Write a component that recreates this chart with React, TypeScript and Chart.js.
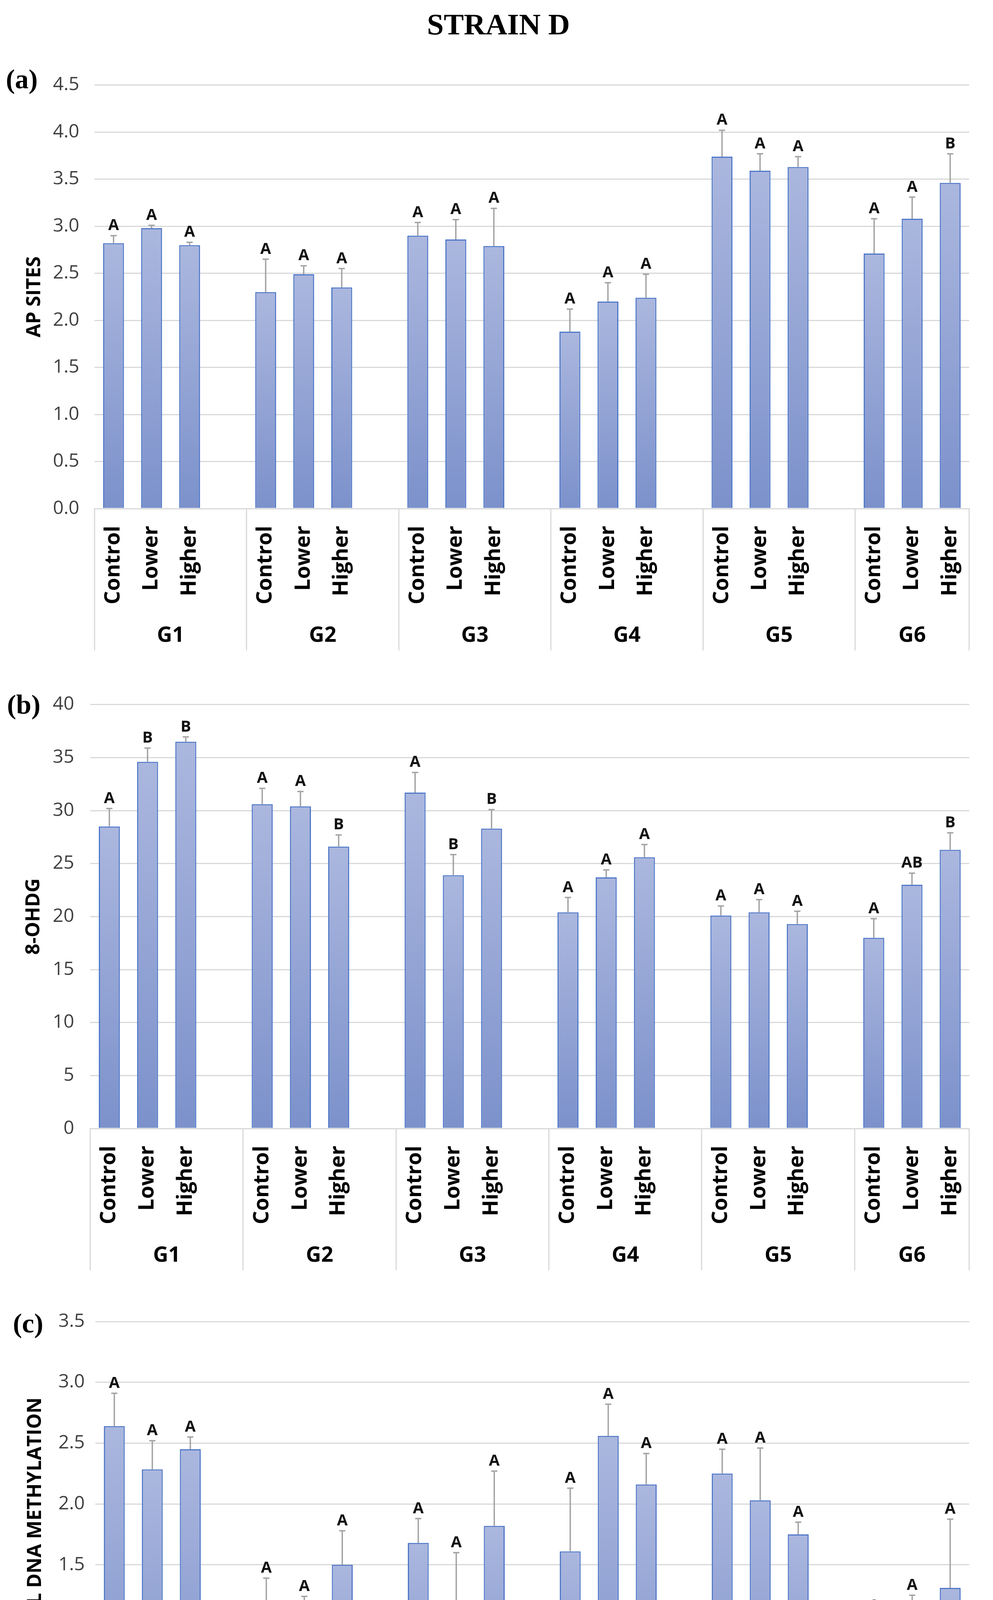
import React, { useEffect, useRef } from 'react';
import { Chart, registerables } from 'chart.js';

Chart.register(...registerables);

// ---------- data ----------
const groups = ['G1', 'G2', 'G3', 'G4', 'G5', 'G6'];
const treatments = ['Control', 'Lower', 'Higher'];

// (a) AP sites
const apSites = [2.82, 2.98, 2.8, 2.3, 2.49, 2.35, 2.9, 2.86, 2.79, 1.88, 2.2, 2.24, 3.74, 3.59, 3.63, 2.71, 3.08, 3.46];
const apSitesErr = [0.08, 0.03, 0.03, 0.35, 0.09, 0.2, 0.14, 0.21, 0.4, 0.24, 0.2, 0.25, 0.28, 0.18, 0.11, 0.37, 0.23, 0.31];
const apSitesLetters = ['A', 'A', 'A', 'A', 'A', 'A', 'A', 'A', 'A', 'A', 'A', 'A', 'A', 'A', 'A', 'A', 'A', 'B'];

// (b) 8-OHdG
const ohdg = [28.5, 34.6, 36.5, 30.6, 30.4, 26.6, 31.7, 23.9, 28.3, 20.4, 23.7, 25.6, 20.1, 20.4, 19.3, 18.0, 23.0, 26.3];
const ohdgErr = [1.7, 1.3, 0.45, 1.5, 1.4, 1.1, 1.9, 1.95, 1.8, 1.4, 0.7, 1.2, 0.9, 1.2, 1.2, 1.8, 1.1, 1.6];
const ohdgLetters = ['A', 'B', 'B', 'A', 'A', 'B', 'A', 'B', 'B', 'A', 'A', 'A', 'A', 'A', 'A', 'A', 'AB', 'B'];

// (c) Global DNA methylation
const methylation = [2.64, 2.285, 2.45, 1.1, 1.0, 1.5, 1.68, 1.09, 1.82, 1.61, 2.56, 2.16, 2.25, 2.03, 1.75, 0.76, 0.9, 1.31];
const methylationErr = [0.27, 0.235, 0.1, 0.29, 0.24, 0.28, 0.2, 0.51, 0.45, 0.52, 0.26, 0.255, 0.2, 0.43, 0.1, 0.32, 0.35, 0.565];
const methylationLetters = ['A', 'A', 'A', 'A', 'A', 'A', 'A', 'A', 'A', 'A', 'A', 'A', 'A', 'A', 'A', 'A', 'A', 'A'];

// ---------- category slots (multi-level axis: blank slot between groups) ----------
function buildSlots() {
  const labels: string[] = [];
  const index: number[] = [];
  const centers: number[] = [];
  const bounds: number[] = [];
  groups.forEach((g, gi) => {
    const start = labels.length;
    treatments.forEach((t) => {
      index.push(labels.length);
      labels.push(t);
    });
    if (gi < groups.length - 1) labels.push('');
    const end = labels.length;
    bounds.push(start - 0.5);
    centers.push((start + end - 1) / 2);
  });
  bounds.push(labels.length - 0.5);
  return { labels, index, centers, bounds };
}
const slots = buildSlots();

const SANS = '"Open Sans", "Noto Sans", sans-serif';
const SERIF = '"Liberation Serif", "DejaVu Serif", serif';

type PanelProps = {
  plotTop: number;
  plotBottom: number;
  plotLeft: number;
  tickPad: number;
  titleCenter: number;
  yMax: number;
  yStep: number;
  decimals: number;
  values: number[];
  errs: number[];
  letters: string[];
  yTitle: string;
};

const PAD_TOP = 67;
const X_H = 270;
const X2_H = 93;
const PAD_BOTTOM = 35;
const PLOT_RIGHT = 2506;
const TITLE_SIZE = 50;

function Panel(props: PanelProps) {
  const { plotTop, plotBottom, plotLeft, tickPad, titleCenter, yMax, yStep, decimals, values, errs, letters, yTitle } = props;
  const ref = useRef<HTMLCanvasElement>(null);
  const canvasTop = plotTop - PAD_TOP;
  const canvasHeight = plotBottom + X_H + X2_H + PAD_BOTTOM - canvasTop;

  useEffect(() => {
    if (!ref.current) return;
    const data: (number | null)[] = slots.labels.map(() => null);
    slots.index.forEach((s, i) => {
      data[s] = values[i];
    });

    const decor = {
      id: 'decor',
      afterDatasetsDraw(chart: any) {
        const ctx = chart.ctx;
        const xs = chart.scales.x;
        const ys = chart.scales.y;
        ctx.save();
        slots.index.forEach((s, i) => {
          const px = xs.getPixelForValue(s);
          const yBar = ys.getPixelForValue(values[i]);
          const yTop = ys.getPixelForValue(values[i] + errs[i]);
          ctx.strokeStyle = '#a3a3a3';
          ctx.lineWidth = 3.5;
          ctx.beginPath();
          ctx.moveTo(px, yBar);
          ctx.lineTo(px, yTop);
          ctx.moveTo(px - 8, yTop);
          ctx.lineTo(px + 8, yTop);
          ctx.stroke();
          ctx.fillStyle = '#111';
          ctx.font = 'bold 40px ' + SANS;
          ctx.textAlign = 'center';
          ctx.textBaseline = 'alphabetic';
          ctx.fillText(letters[i], px, yTop - 14);
        });
        ctx.restore();
      },
      afterDraw(chart: any) {
        const ctx = chart.ctx;
        const xs = chart.scales.x;
        const x2 = chart.scales.x2;
        const area = chart.chartArea;
        ctx.save();
        ctx.strokeStyle = '#d9d9d9';
        ctx.lineWidth = 3;
        slots.bounds.forEach((b) => {
          const px = Math.round(xs.getPixelForValue(b));
          ctx.beginPath();
          ctx.moveTo(px, area.bottom);
          ctx.lineTo(px, x2.bottom);
          ctx.stroke();
        });
        ctx.restore();
      },
    };

    const chart = new Chart(ref.current, {
      type: 'bar',
      data: {
        labels: slots.labels,
        datasets: [
          {
            data,
            backgroundColor: (c: any) => {
              const ch = c.chart;
              const area = ch.chartArea;
              if (!area || c.raw == null) return '#95a5d6';
              const top = ch.scales.y.getPixelForValue(c.raw);
              const g = ch.ctx.createLinearGradient(0, top, 0, area.bottom);
              g.addColorStop(0, '#abb7de');
              g.addColorStop(1, '#7c91cb');
              return g;
            },
            borderColor: '#5078c8',
            borderWidth: 3,
            categoryPercentage: 1,
            barPercentage: 0.55,
          } as any,
        ],
      },
      options: {
        animation: false,
        responsive: false,
        maintainAspectRatio: false,
        devicePixelRatio: 1,
        layout: { padding: { top: PAD_TOP, bottom: PAD_BOTTOM, left: 0, right: 2542 - PLOT_RIGHT } },
        plugins: { legend: { display: false }, tooltip: { enabled: false } },
        scales: {
          x: {
            type: 'category',
            position: 'bottom',
            offset: true,
            grid: { display: false, drawTicks: false },
            border: { display: true, color: '#d9d9d9', width: 3 },
            ticks: {
              autoSkip: false,
              minRotation: 90,
              maxRotation: 90,
              padding: 44,
              color: '#000',
              font: { family: SANS, size: 54, weight: 'bold' },
            },
            afterFit: (s: any) => {
              s.height = X_H;
            },
          },
          x2: {
            type: 'linear',
            position: 'bottom',
            offset: false,
            min: -0.5,
            max: slots.labels.length - 0.5,
            grid: { display: false, drawTicks: false, offset: false },
            border: { display: false },
            afterBuildTicks: (a: any) => {
              a.ticks = slots.centers.map((v) => ({ value: v }));
            },
            ticks: {
              autoSkip: false,
              maxRotation: 0,
              minRotation: 0,
              padding: 23,
              color: '#000',
              font: { family: SANS, size: 54, weight: 'bold' },
              callback: (_v: any, i: number) => groups[i],
            },
            afterFit: (s: any) => {
              s.height = X2_H;
            },
          },
          y: {
            min: 0,
            max: yMax,
            ticks: {
              stepSize: yStep,
              padding: tickPad,
              color: '#404040',
              font: { family: SANS, size: 48 },
              callback: (v: any) => Number(v).toFixed(decimals),
            },
            grid: { color: '#d9d9d9', lineWidth: 3, drawTicks: false },
            border: { display: false },
            title: {
              display: true,
              text: yTitle,
              color: '#000',
              font: { family: SANS, size: TITLE_SIZE, weight: 'bold' },
              padding: { top: titleCenter - (TITLE_SIZE * 1.2) / 2, bottom: 0 },
            },
            afterFit: (s: any) => {
              s.width = plotLeft;
            },
          },
        },
      } as any,
      plugins: [decor as any],
    });
    return () => chart.destroy();
  }, []);

  return (
    <canvas
      ref={ref}
      width={2542}
      height={canvasHeight}
      style={{ position: 'absolute', left: 0, top: canvasTop, width: 2542, height: canvasHeight }}
    />
  );
}

const panelLabelStyle = (left: number, top: number): React.CSSProperties => ({
  position: 'absolute',
  left,
  top,
  transform: 'translateY(-50%)',
  fontFamily: SERIF,
  fontWeight: 'bold',
  fontSize: 70,
  lineHeight: 1,
  color: '#000',
});

export default function App() {
  return (
    <div
      style={{
        position: 'absolute',
        left: 0,
        top: 0,
        width: 2542,
        height: 4874,
        background: '#fff',
        overflow: 'hidden',
      }}
    >
      <div
        style={{
          position: 'absolute',
          left: 1276,
          top: 62,
          transform: 'translate(-50%, -50%)',
          fontFamily: SERIF,
          fontWeight: 'bold',
          fontSize: 77,
          lineHeight: 1,
          whiteSpace: 'nowrap',
          color: '#000',
        }}
      >
        STRAIN D
      </div>

      <div style={panelLabelStyle(15, 203)}>(a)</div>
      <Panel
        plotTop={217}
        plotBottom={1302}
        plotLeft={242}
        tickPad={39}
        titleCenter={89}
        yMax={4.5}
        yStep={0.5}
        decimals={1}
        values={apSites}
        errs={apSitesErr}
        letters={apSitesLetters}
        yTitle="AP SITES"
      />

      <div style={panelLabelStyle(18, 1804)}>(b)</div>
      <Panel
        plotTop={1801}
        plotBottom={2889}
        plotLeft={231}
        tickPad={41}
        titleCenter={87}
        yMax={40}
        yStep={5}
        decimals={0}
        values={ohdg}
        errs={ohdgErr}
        letters={ohdgLetters}
        yTitle="8-OHDG"
      />

      <div style={panelLabelStyle(33, 3388)}>(c)</div>
      <Panel
        plotTop={3383}
        plotBottom={4473}
        plotLeft={244}
        tickPad={27}
        titleCenter={91}
        yMax={3.5}
        yStep={0.5}
        decimals={1}
        values={methylation}
        errs={methylationErr}
        letters={methylationLetters}
        yTitle="GLOBAL DNA METHYLATION"
      />
    </div>
  );
}
